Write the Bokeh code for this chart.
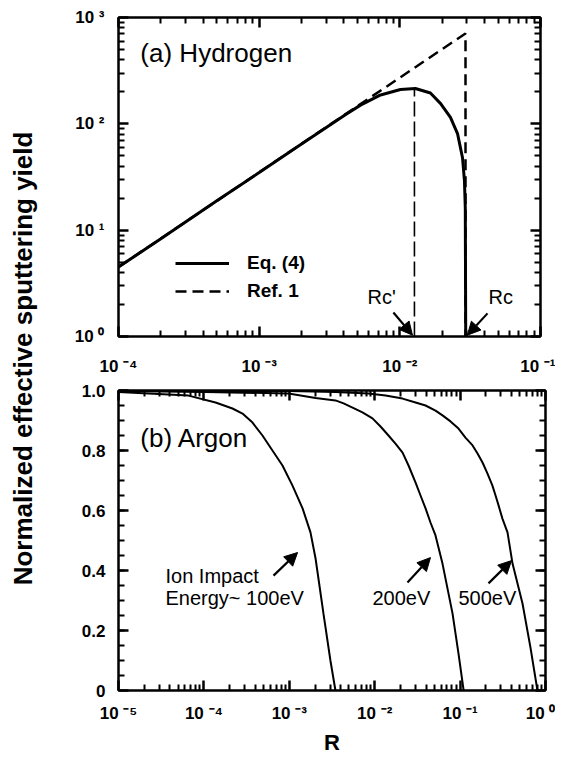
from math import pi
from bokeh.plotting import figure
from bokeh.layouts import row, column
from bokeh.models import (Range1d, LogAxis, LinearAxis, FixedTicker, Label, Arrow,
                          NormalHead, Legend, LegendItem)
from bokeh.embed import file_html
from bokeh.resources import INLINE

FONT = "Liberation Sans"

# ---------------- data: (a) Hydrogen ----------------
h_eq4_R = [1e-4, 2e-4, 5e-4, 1e-3, 2e-3, 4.1e-3, 5.25e-3, 7.3e-3, 1.01e-2, 1.29e-2,
           1.65e-2, 1.95e-2, 2.29e-2, 2.57e-2, 2.79e-2, 2.88e-2, 2.92e-2, 2.94e-2]
h_eq4_Y = [4.5, 8.3, 18.9, 34.8, 64.5, 122, 150, 187, 210, 215,
           195, 155, 115, 81, 48, 29, 16, 1.0]
h_ref1_R = [1e-4, 2.93e-2, 2.93e-2]
h_ref1_Y = [4.5, 708, 1.0]
h_rcp_R = [1.27e-2, 1.27e-2]
h_rcp_Y = [1.0, 215]

top_x_ticks = [1e-4, 1e-3, 1e-2, 1e-1]
top_x_labels = ["10 \u207b\u2074", "10 \u207b\u00b3", "10 \u207b\u00b2", "10 \u207b\u00b9"]
top_y_ticks = [1, 10, 100, 1000]
top_y_labels = ["10 \u2070", "10 \u00b9", "10 \u00b2", "10 \u00b3"]

# ---------------- data: (b) Argon ----------------
ar100_R = [1e-5, 6.6e-5, 1.37e-4, 2.16e-4, 2.83e-4, 3.71e-4, 4.85e-4, 6.35e-4, 8.32e-4,
           1.09e-3, 1.43e-3, 1.77e-3, 2.03e-3, 2.51e-3, 3.03e-3, 3.47e-3]
ar100_Y = [0.995, 0.983, 0.96, 0.94, 0.923, 0.893, 0.85, 0.80, 0.75,
           0.683, 0.607, 0.527, 0.44, 0.257, 0.1, 0.0]
ar200_R = [1e-5, 1.05e-4, 9.8e-4, 2.03e-3, 3.47e-3, 4.32e-3, 5.5e-3, 7.19e-3, 9.42e-3,
           1.17e-2, 1.45e-2, 1.75e-2, 2.12e-2, 2.49e-2, 3.01e-2, 3.44e-2, 3.94e-2,
           4.5e-2, 5.15e-2, 6.22e-2, 8.15e-2, 9.58e-2, 0.11]
ar200_Y = [0.998, 0.995, 0.99, 0.975, 0.967, 0.957, 0.943, 0.927, 0.907,
           0.88, 0.85, 0.823, 0.793, 0.75, 0.693, 0.65, 0.607,
           0.56, 0.517, 0.423, 0.257, 0.123, 0.0]
ar500_R = [1e-5, 1e-3, 3.47e-3, 8.45e-3, 1.34e-2, 2.12e-2, 3.01e-2, 3.94e-2, 5.15e-2,
           6.22e-2, 7.72e-2, 9.58e-2, 0.1155, 0.14, 0.16, 0.183, 0.2094, 0.239,
           0.26, 0.282, 0.313, 0.359, 0.411, 0.538, 0.667, 0.805]
ar500_Y = [1.0, 0.998, 0.995, 0.99, 0.983, 0.973, 0.96, 0.95, 0.933,
           0.917, 0.897, 0.873, 0.843, 0.817, 0.79, 0.76, 0.723, 0.683,
           0.65, 0.617, 0.573, 0.527, 0.423, 0.29, 0.143, 0.0]

bot_x_ticks = [1e-5, 1e-4, 1e-3, 1e-2, 1e-1, 1.0]
bot_x_labels = ["10 \u207b\u2075", "10 \u207b\u2074", "10 \u207b\u00b3", "10 \u207b\u00b2",
                "10 \u207b\u00b9", "10 \u2070"]
bot_y_ticks = [0.0, 0.2, 0.4, 0.6, 0.8, 1.0]
bot_y_labels = ["0", "0.2", "0.4", "0.6", "0.8", "1.0"]


def log_minor(lo_exp, hi_exp):
    return [m * 10.0 ** e for e in range(lo_exp, hi_exp) for m in range(2, 10)]


def style_axis(ax, show_labels=True, standoff=12):
    ax.axis_line_width = 2
    ax.axis_line_color = "black"
    ax.major_tick_in = 10
    ax.major_tick_out = 0
    ax.minor_tick_in = 6
    ax.minor_tick_out = 0
    ax.major_tick_line_width = 2.5
    ax.minor_tick_line_width = 2
    ax.major_tick_line_color = "black"
    ax.minor_tick_line_color = "black"
    ax.major_label_text_font = FONT
    ax.major_label_text_font_style = "bold"
    ax.major_label_text_color = "black"
    ax.major_label_standoff = standoff
    if show_labels:
        ax.major_label_text_font_size = "17px"
    else:
        ax.major_label_text_font_size = "1px"
        ax.major_label_text_alpha = 0


# ---------------- top panel ----------------
top = figure(x_axis_type="log", y_axis_type="log",
             x_range=Range1d(1e-4, 1e-1), y_range=Range1d(1, 1000),
             frame_width=422, frame_height=319,
             min_border_left=50, min_border_right=15, min_border_top=17, min_border_bottom=44,
             output_backend="svg", toolbar_location=None)
top.grid.visible = False
top.outline_line_color = "black"
top.outline_line_width = 2

tx_ticker = FixedTicker(ticks=top_x_ticks, minor_ticks=log_minor(-4, -1))
ty_ticker = FixedTicker(ticks=top_y_ticks, minor_ticks=log_minor(0, 3))
top.xaxis[0].ticker = tx_ticker
top.yaxis[0].ticker = ty_ticker
top.xaxis[0].major_label_overrides = dict(zip(top_x_ticks, top_x_labels))
top.yaxis[0].major_label_overrides = dict(zip(top_y_ticks, top_y_labels))
style_axis(top.xaxis[0], standoff=20)
style_axis(top.yaxis[0], standoff=14)
ta = LogAxis(ticker=tx_ticker)
tr = LogAxis(ticker=ty_ticker)
style_axis(ta, False, 0)
style_axis(tr, False, 0)
top.add_layout(ta, "above")
top.add_layout(tr, "right")

r_eq4 = top.line(h_eq4_R, h_eq4_Y, line_color="black", line_width=3)
r_ref1 = top.line(h_ref1_R, h_ref1_Y, line_color="black", line_width=2.5, line_dash="11 6")
top.line(h_rcp_R, h_rcp_Y, line_color="black", line_width=1.6, line_dash="15 5")

legend = Legend(items=[LegendItem(label="Eq. (4)", renderers=[r_eq4]),
                       LegendItem(label="Ref. 1", renderers=[r_ref1])],
                location=(57, 34), padding=0, margin=0, spacing=6,
                glyph_width=54, glyph_height=20, label_standoff=18,
                label_text_font=FONT, label_text_font_style="bold",
                label_text_font_size="19px", label_text_color="black",
                border_line_alpha=0, background_fill_alpha=0)
top.add_layout(legend)

top.add_layout(Label(x=1.43e-4, y=459, text="(a) Hydrogen", text_font=FONT,
                     text_font_size="26px", text_baseline="middle", text_color="black"))
top.add_layout(Label(x=5.9e-3, y=2.33, text="Rc'", text_font=FONT,
                     text_font_size="20px", text_baseline="middle", text_color="black"))
top.add_layout(Label(x=4.27e-2, y=2.33, text="Rc", text_font=FONT,
                     text_font_size="20px", text_baseline="middle", text_color="black"))
for xs, ys, xe, ye in [(9.0e-3, 1.68, 1.23e-2, 1.03), (4.2e-2, 1.65, 3.02e-2, 1.03)]:
    top.add_layout(Arrow(end=NormalHead(size=13, fill_color="black", line_color="black"),
                         x_start=xs, y_start=ys, x_end=xe, y_end=ye,
                         line_width=2.2, line_color="black"))

# ---------------- bottom panel ----------------
bot = figure(x_axis_type="log", x_range=Range1d(1e-5, 1.0), y_range=Range1d(0, 1.0),
             frame_width=427, frame_height=300,
             min_border_left=45, min_border_right=15, min_border_top=10, min_border_bottom=62,
             output_backend="svg", toolbar_location=None)
bot.grid.visible = False
bot.outline_line_color = "black"
bot.outline_line_width = 2

bx_ticker = FixedTicker(ticks=bot_x_ticks, minor_ticks=log_minor(-5, 0))
by_ticker = FixedTicker(ticks=bot_y_ticks, minor_ticks=[i * 0.05 for i in range(1, 20)])
bot.xaxis[0].ticker = bx_ticker
bot.yaxis[0].ticker = by_ticker
bot.xaxis[0].major_label_overrides = dict(zip(bot_x_ticks, bot_x_labels))
bot.yaxis[0].major_label_overrides = dict(zip(bot_y_ticks, bot_y_labels))
style_axis(bot.xaxis[0], standoff=13)
style_axis(bot.yaxis[0], standoff=13)
bot.xaxis[0].axis_label = "R"
bot.xaxis[0].axis_label_text_font = FONT
bot.xaxis[0].axis_label_text_font_style = "bold"
bot.xaxis[0].axis_label_text_font_size = "22px"
bot.xaxis[0].axis_label_text_color = "black"
bot.xaxis[0].axis_label_standoff = 4
ba = LogAxis(ticker=bx_ticker)
br = LinearAxis(ticker=by_ticker)
style_axis(ba, False, 0)
style_axis(br, False, 0)
bot.add_layout(ba, "above")
bot.add_layout(br, "right")

for xs, ys in [(ar100_R, ar100_Y), (ar200_R, ar200_Y), (ar500_R, ar500_Y)]:
    bot.line(xs, ys, line_color="black", line_width=2)

bot.add_layout(Label(x=1.8e-5, y=0.843, text="(b) Argon", text_font=FONT,
                     text_font_size="26px", text_baseline="middle", text_color="black"))
bot.add_layout(Label(x=3.55e-5, y=0.383, text="Ion Impact", text_font=FONT,
                     text_font_size="20px", text_baseline="middle", text_color="black"))
bot.add_layout(Label(x=3.55e-5, y=0.307, text="Energy~ 100eV", text_font=FONT,
                     text_font_size="20px", text_baseline="middle", text_color="black"))
bot.add_layout(Label(x=9.4e-3, y=0.307, text="200eV", text_font=FONT,
                     text_font_size="20px", text_baseline="middle", text_color="black"))
bot.add_layout(Label(x=9.57e-2, y=0.307, text="500eV", text_font=FONT,
                     text_font_size="20px", text_baseline="middle", text_color="black"))
for xs, ys, xe, ye in [(6.53e-4, 0.383, 1.25e-3, 0.46), (2.42e-2, 0.36, 4.5e-2, 0.443),
                       (0.215, 0.357, 0.40, 0.433)]:
    bot.add_layout(Arrow(end=NormalHead(size=13, fill_color="black", line_color="black"),
                         x_start=xs, y_start=ys, x_end=xe, y_end=ye,
                         line_width=2.2, line_color="black"))

# ---------------- shared y title ----------------
lab = figure(width=68, height=752, x_range=Range1d(0, 1), y_range=Range1d(0, 1),
             x_axis_location=None, y_axis_location=None, min_border=0,
             output_backend="svg", toolbar_location=None)
lab.grid.visible = False
lab.outline_line_color = None
lab.add_layout(Label(x=0.33, y=0.524, text="Normalized effective sputtering yield",
                     angle=pi / 2, text_align="center", text_baseline="middle",
                     text_font=FONT, text_font_style="bold", text_font_size="26px",
                     text_color="black"))

layout = row(lab, column(top, bot))
open("out.html", "w").write(file_html(layout, INLINE))
